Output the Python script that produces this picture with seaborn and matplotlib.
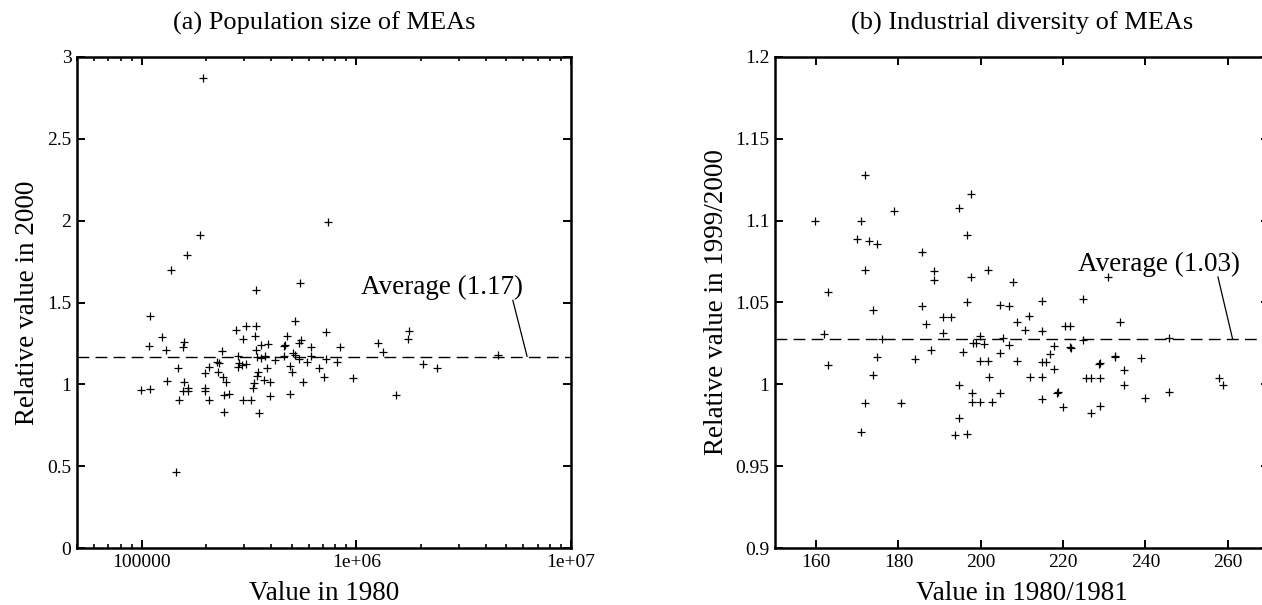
import numpy as np
import pandas as pd
import matplotlib
matplotlib.use("Agg")
import matplotlib.pyplot as plt
import matplotlib.ticker as mticker
import seaborn as sns

# (a) population size: value in 1980 vs relative value in 2000
pop_1980 = [1.09e5, 1.08e5, 1.24e5, 1.30e5, 9.9e4, 1.09e5, 1.32e5, 1.48e5, 1.58e5, 1.56e5,
            1.49e5, 1.44e5, 1.57e5, 1.56e5, 1.64e5, 1.65e5, 1.97e5, 2.05e5, 1.97e5, 1.98e5,
            2.05e5, 2.38e5, 2.24e5, 2.28e5, 2.40e5, 2.48e5, 2.43e5, 2.54e5, 2.41e5, 2.75e5,
            3.05e5, 3.42e5, 2.96e5, 3.38e5, 2.81e5, 2.83e5, 2.80e5, 2.92e5, 3.05e5, 3.42e5,
            3.60e5, 3.87e5, 3.44e5, 3.74e5, 3.47e5, 3.44e5, 3.85e5, 3.72e5, 3.98e5, 3.34e5,
            3.32e5, 2.98e5, 3.23e5, 3.95e5, 3.52e5, 4.17e5, 4.60e5, 4.75e5, 5.16e5, 4.60e5,
            5.10e5, 5.39e5, 5.54e5, 4.90e5, 5.00e5, 4.90e5, 5.39e5, 5.66e5, 6.15e5, 6.15e5,
            5.89e5, 6.67e5, 7.20e5, 7.24e5, 7.10e5, 8.10e5, 8.40e5, 9.70e5, 1.26e6, 1.33e6,
            1.53e6, 1.76e6, 1.75e6, 2.05e6, 2.38e6, 4.55e6, 1.93e5, 7.40e5, 1.87e5, 1.62e5,
            1.37e5, 3.40e5, 5.47e5, 4.65e5, 5.20e5, 2.30e5, 3.60e5]
pop_rel = [1.417, 1.234, 1.287, 1.209, 0.965, 0.974, 1.020, 1.100, 1.260, 1.226,
           0.904, 0.467, 1.016, 0.961, 0.980, 0.961, 1.071, 1.104, 0.980, 0.959,
           0.904, 1.205, 1.138, 1.077, 1.043, 1.012, 0.935, 0.941, 0.833, 1.335,
           1.356, 1.356, 1.276, 1.295, 1.173, 1.132, 1.108, 1.118, 1.122, 1.209,
           1.240, 1.246, 1.165, 1.173, 1.077, 1.051, 1.098, 1.026, 1.016, 1.010,
           0.980, 0.904, 0.904, 0.929, 0.823, 1.148, 1.234, 1.295, 1.388, 1.173,
           1.193, 1.250, 1.270, 1.112, 1.077, 0.941, 1.152, 1.016, 1.230, 1.173,
           1.138, 1.098, 1.152, 1.317, 1.047, 1.138, 1.226, 1.037, 1.250, 1.199,
           0.935, 1.325, 1.280, 1.124, 1.098, 1.179, 2.870, 1.990, 1.910, 1.793,
           1.700, 1.577, 1.620, 1.240, 1.180, 1.130, 1.160]

# (b) industrial diversity: value in 1980/1981 vs relative value in 1999/2000
div_1980 = [161.8, 162.8, 173.7, 174.9, 175.9, 173.7, 171.8, 170.8, 185.8, 186.8,
            187.8, 183.9, 190.9, 192.8, 190.9, 180.7, 196.7, 195.7, 199.8, 198.2,
            198.9, 200.8, 194.8, 197.9, 197.9, 199.8, 202.7, 199.8, 201.7, 202.0,
            194.8, 193.8, 196.7, 204.7, 206.9, 205.5, 206.9, 204.7, 204.7, 208.8,
            208.8, 210.8, 211.7, 214.8, 214.8, 211.9, 214.8, 214.8, 215.8, 216.8,
            217.7, 217.7, 214.8, 218.5, 218.7, 219.9, 220.4, 221.6, 221.6, 224.8,
            224.8, 225.5, 226.7, 228.9, 226.7, 228.9, 228.9, 232.7, 233.9, 234.9,
            234.9, 238.8, 239.8, 245.6, 245.6, 257.9, 258.8, 159.7, 170.8, 171.8,
            169.9, 172.8, 174.9, 171.8, 162.8, 178.8, 185.8, 188.7, 188.7, 194.8,
            197.7, 196.7, 197.7, 201.8, 207.9, 230.8, 221.8, 228.7, 232.6]
div_rel = [1.0306, 1.0117, 1.0454, 1.0165, 1.0278, 1.0056, 0.9883, 0.9708, 1.0480, 1.0369,
           1.0208, 1.0157, 1.0413, 1.0409, 1.0313, 0.9883, 1.0504, 1.0198, 1.0298, 1.0252,
           1.0252, 1.0246, 0.9996, 0.9950, 0.9895, 0.9895, 0.9895, 1.0145, 1.0145, 1.0046,
           0.9792, 0.9688, 0.9698, 1.0484, 1.0480, 1.0286, 1.0238, 1.0192, 0.9950, 1.0379,
           1.0145, 1.0329, 1.0419, 1.0508, 1.0323, 1.0046, 1.0046, 1.0137, 1.0137, 1.0185,
           1.0232, 1.0091, 0.9909, 0.9950, 0.9955, 0.9863, 1.0359, 1.0359, 1.0226, 1.0524,
           1.0272, 1.0040, 1.0040, 1.0040, 0.9823, 0.9869, 1.0131, 1.0171, 1.0383, 1.0085,
           0.9996, 1.0161, 0.9915, 1.0282, 0.9956, 1.0036, 0.9996, 1.1000, 1.1000, 1.1282,
           1.0889, 1.0875, 1.0859, 1.0698, 1.0563, 1.1062, 1.0810, 1.0694, 1.0637, 1.1077,
           1.1163, 1.0915, 1.0657, 1.0698, 1.0627, 1.0657, 1.0222, 1.0127, 1.0168]

avg_pop = 1.17
avg_div = 1.0274

# annotation anchors (text position, leader line start/end)
pop_note_xy = (2.5e6, 1.59)
pop_leader = ((5.36e6, 1.514), (6.25e6, avg_pop))
div_note_xy = (243.3, 1.073)
div_leader = ((257.6, 1.0657), (261.2, avg_div))

df_pop = pd.DataFrame({"x": pop_1980, "y": pop_rel})
df_div = pd.DataFrame({"x": div_1980, "y": div_rel})

sns.set_style("ticks")
plt.rcParams["font.family"] = ["Liberation Serif", "DejaVu Serif"]
plt.rcParams["text.color"] = "black"
plt.rcParams["xtick.color"] = "black"
plt.rcParams["ytick.color"] = "black"
plt.rcParams["axes.labelcolor"] = "black"
plt.rcParams["axes.edgecolor"] = "black"

fig = plt.figure(figsize=(12.62, 6.05), dpi=100)
ax1 = fig.add_axes([0.061, 0.0942, 0.3914, 0.8116])
ax2 = fig.add_axes([0.6141, 0.0942, 0.3914, 0.8116])

for ax, df in [(ax1, df_pop), (ax2, df_div)]:
    sns.scatterplot(data=df, x="x", y="y", marker="+", color="black", s=30,
                    linewidth=0.9, ax=ax, legend=False)

# panel (a)
ax1.set_xscale("log")
ax1.set_xlim(5e4, 1e7)
ax1.set_ylim(0, 3)
ax1.set_xticks([1e5, 1e6, 1e7])
ax1.set_xticklabels(["100000", "1e+06", "1e+07"])
ax1.xaxis.set_minor_locator(mticker.LogLocator(base=10, subs=np.arange(2, 10)))
ax1.xaxis.set_minor_formatter(mticker.NullFormatter())
ax1.set_yticks([0, 0.5, 1, 1.5, 2, 2.5, 3])
ax1.set_yticklabels(["0", "0.5", "1", "1.5", "2", "2.5", "3"])
ax1.axhline(avg_pop, color="black", lw=1.0, ls=(0, (8.5, 4.5)))
ax1.text(*pop_note_xy, "Average (1.17)", ha="center", va="center", fontsize=19.5)
ax1.annotate("", xy=pop_leader[1], xytext=pop_leader[0],
             arrowprops=dict(arrowstyle="-", color="black", lw=0.9, shrinkA=0, shrinkB=0))
ax1.set_title("(a) Population size of MEAs", fontsize=19, y=1.069, va="center", pad=0)
ax1.set_xlabel("Value in 1980", fontsize=19.5)
ax1.set_ylabel("Relative value in 2000", fontsize=19.5)

# panel (b)
ax2.set_xlim(150, 270)
ax2.set_ylim(0.9, 1.2)
ax2.set_xticks([160, 180, 200, 220, 240, 260])
ax2.set_yticks([0.9, 0.95, 1.0, 1.05, 1.1, 1.15, 1.2])
ax2.set_yticklabels(["0.9", "0.95", "1", "1.05", "1.1", "1.15", "1.2"])
ax2.axhline(avg_div, color="black", lw=1.0, ls=(0, (8.5, 4.5)))
ax2.text(*div_note_xy, "Average (1.03)", ha="center", va="center", fontsize=19.5)
ax2.annotate("", xy=div_leader[1], xytext=div_leader[0],
             arrowprops=dict(arrowstyle="-", color="black", lw=0.9, shrinkA=0, shrinkB=0))
ax2.set_title("(b) Industrial diversity of MEAs", fontsize=19, y=1.069, va="center", pad=0)
ax2.set_xlabel("Value in 1980/1981", fontsize=19.5)
ax2.set_ylabel("Relative value in 1999/2000", fontsize=19.5)

for ax, ylab_x in [(ax1, -0.101), (ax2, -0.119)]:
    for sp in ax.spines.values():
        sp.set_visible(True)
        sp.set_linewidth(1.8)
        sp.set_color("black")
    ax.tick_params(which="major", direction="in", length=5.5, width=1.4,
                   top=True, right=True, labelsize=14, pad=4)
    ax.tick_params(which="minor", direction="in", length=3, width=1.2,
                   top=True, right=True)
    ax.xaxis.label.set_va("center")
    ax.yaxis.label.set_va("center")
    ax.xaxis.set_label_coords(0.5, -0.0917)
    ax.yaxis.set_label_coords(ylab_x, 0.5)
    ax.grid(False)

fig.savefig("out.png", dpi=100)
